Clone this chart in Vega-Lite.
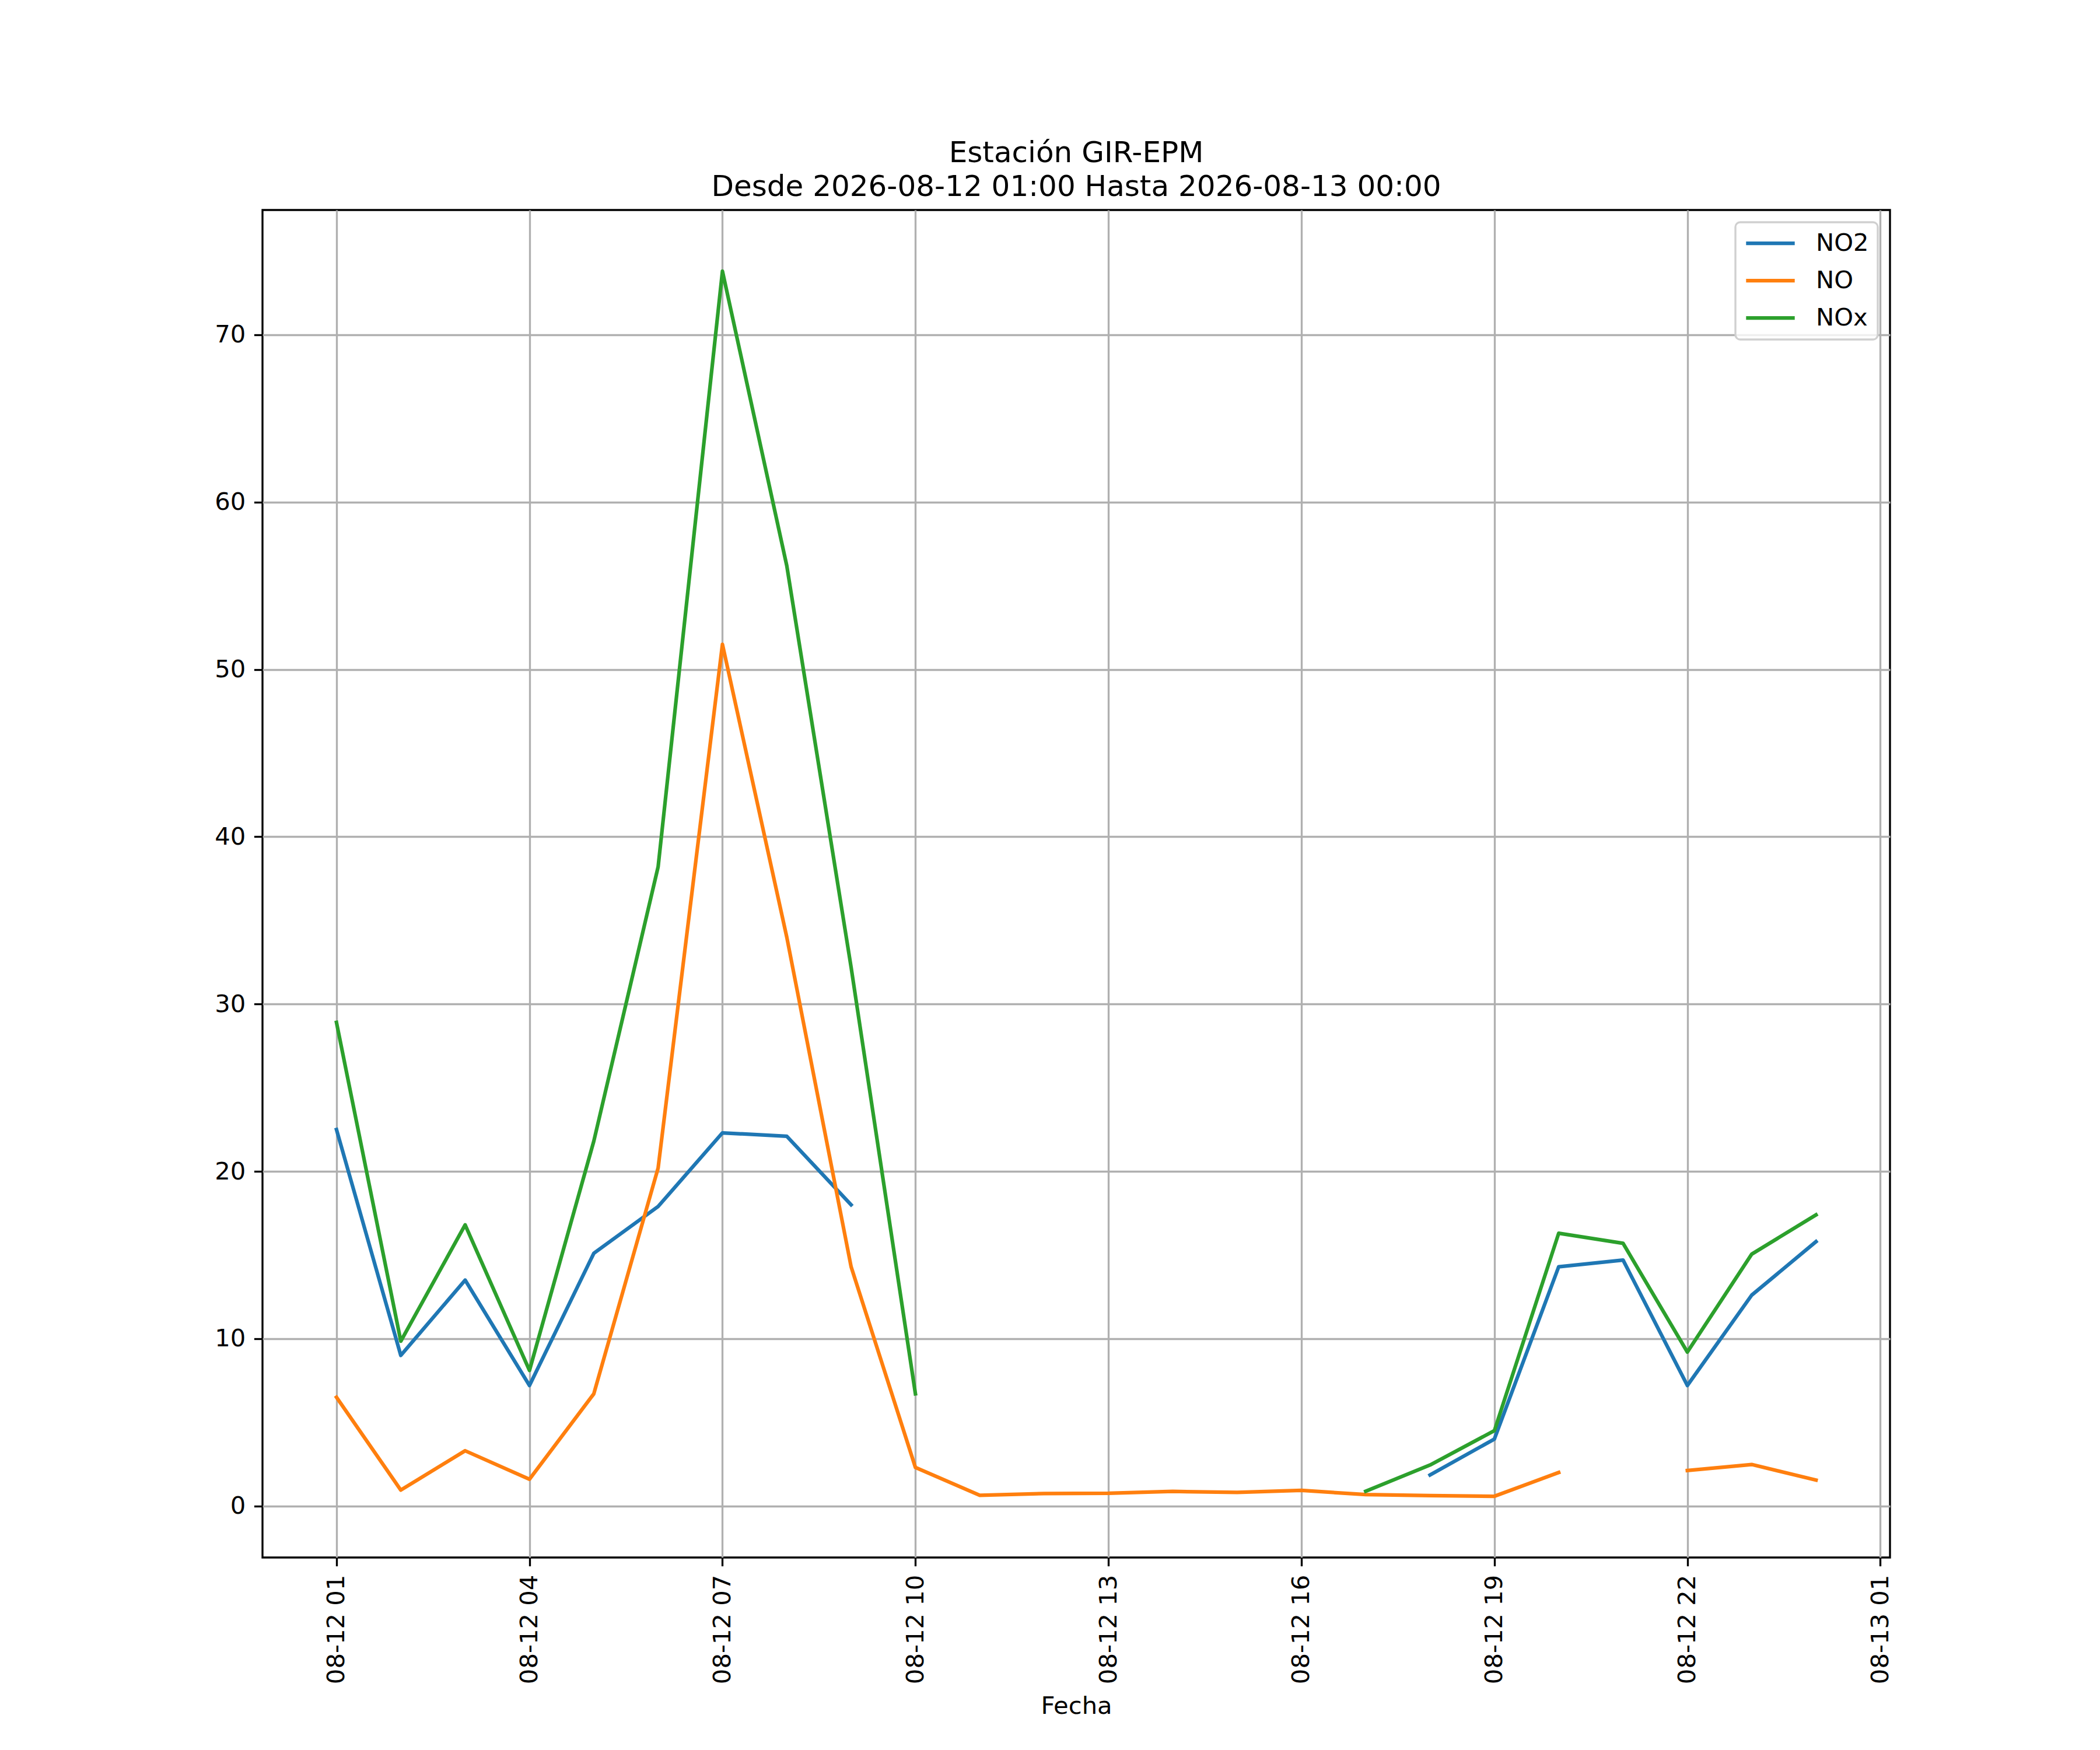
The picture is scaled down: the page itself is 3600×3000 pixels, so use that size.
{
  "$schema": "https://vega.github.io/schema/vega-lite/v6.json",
  "autosize": "none",
  "width": 2790,
  "height": 2310,
  "padding": {"left": 450, "top": 360, "right": 360, "bottom": 330},
  "background": "white",
  "config": {
    "font": "DejaVu Sans",
    "view": {"stroke": "black", "strokeWidth": 3.33},
    "axis": {
      "labelFontSize": 41.7,
      "labelColor": "black",
      "labelPadding": 14.6,
      "labelLimit": 0,
      "tickSize": 14.6,
      "tickWidth": 3.33,
      "tickColor": "black",
      "grid": true,
      "gridColor": "#b0b0b0",
      "gridWidth": 3.33,
      "domain": false,
      "titleFontSize": 41.7,
      "titleFontWeight": "normal",
      "titleColor": "black"
    },
    "legend": {
      "labelFontSize": 41.7,
      "labelColor": "black",
      "symbolType": "stroke",
      "symbolSize": 6956,
      "symbolStrokeWidth": 6.25,
      "clipHeight": 42,
      "labelOffset": 33,
      "rowPadding": 21,
      "padding": 15,
      "fillColor": "rgba(255,255,255,0.8)",
      "strokeColor": "#d0d0d0",
      "strokeWidth": 3.33,
      "cornerRadius": 8
    }
  },
  "title": {
    "text": ["Estación GIR-EPM", "Desde 2026-08-12 01:00 Hasta 2026-08-13 00:00"],
    "fontSize": 50,
    "fontWeight": "normal",
    "color": "black",
    "anchor": "middle",
    "frame": "group",
    "baseline": "bottom",
    "offset": -36,
    "lineHeight": 58
  },
  "data": {
    "values": [
      {"t": "2026-08-12T01:00:00Z", "s": "NO2", "v": 22.5},
      {"t": "2026-08-12T02:00:00Z", "s": "NO2", "v": 9.0},
      {"t": "2026-08-12T03:00:00Z", "s": "NO2", "v": 13.5},
      {"t": "2026-08-12T04:00:00Z", "s": "NO2", "v": 7.2},
      {"t": "2026-08-12T05:00:00Z", "s": "NO2", "v": 15.1},
      {"t": "2026-08-12T06:00:00Z", "s": "NO2", "v": 17.9},
      {"t": "2026-08-12T07:00:00Z", "s": "NO2", "v": 22.3},
      {"t": "2026-08-12T08:00:00Z", "s": "NO2", "v": 22.1},
      {"t": "2026-08-12T09:00:00Z", "s": "NO2", "v": 18.0},
      {"t": "2026-08-12T10:00:00Z", "s": "NO2", "v": null},
      {"t": "2026-08-12T11:00:00Z", "s": "NO2", "v": null},
      {"t": "2026-08-12T12:00:00Z", "s": "NO2", "v": null},
      {"t": "2026-08-12T13:00:00Z", "s": "NO2", "v": null},
      {"t": "2026-08-12T14:00:00Z", "s": "NO2", "v": null},
      {"t": "2026-08-12T15:00:00Z", "s": "NO2", "v": null},
      {"t": "2026-08-12T16:00:00Z", "s": "NO2", "v": null},
      {"t": "2026-08-12T17:00:00Z", "s": "NO2", "v": null},
      {"t": "2026-08-12T18:00:00Z", "s": "NO2", "v": 1.85},
      {"t": "2026-08-12T19:00:00Z", "s": "NO2", "v": 4.0},
      {"t": "2026-08-12T20:00:00Z", "s": "NO2", "v": 14.3},
      {"t": "2026-08-12T21:00:00Z", "s": "NO2", "v": 14.7},
      {"t": "2026-08-12T22:00:00Z", "s": "NO2", "v": 7.2},
      {"t": "2026-08-12T23:00:00Z", "s": "NO2", "v": 12.6},
      {"t": "2026-08-13T00:00:00Z", "s": "NO2", "v": 15.8},
      {"t": "2026-08-12T01:00:00Z", "s": "NO", "v": 6.5},
      {"t": "2026-08-12T02:00:00Z", "s": "NO", "v": 0.95},
      {"t": "2026-08-12T03:00:00Z", "s": "NO", "v": 3.3},
      {"t": "2026-08-12T04:00:00Z", "s": "NO", "v": 1.6},
      {"t": "2026-08-12T05:00:00Z", "s": "NO", "v": 6.7},
      {"t": "2026-08-12T06:00:00Z", "s": "NO", "v": 20.2},
      {"t": "2026-08-12T07:00:00Z", "s": "NO", "v": 51.5},
      {"t": "2026-08-12T08:00:00Z", "s": "NO", "v": 34.0},
      {"t": "2026-08-12T09:00:00Z", "s": "NO", "v": 14.3},
      {"t": "2026-08-12T10:00:00Z", "s": "NO", "v": 2.3},
      {"t": "2026-08-12T11:00:00Z", "s": "NO", "v": 0.64},
      {"t": "2026-08-12T12:00:00Z", "s": "NO", "v": 0.74},
      {"t": "2026-08-12T13:00:00Z", "s": "NO", "v": 0.76},
      {"t": "2026-08-12T14:00:00Z", "s": "NO", "v": 0.87},
      {"t": "2026-08-12T15:00:00Z", "s": "NO", "v": 0.81},
      {"t": "2026-08-12T16:00:00Z", "s": "NO", "v": 0.93},
      {"t": "2026-08-12T17:00:00Z", "s": "NO", "v": 0.68},
      {"t": "2026-08-12T18:00:00Z", "s": "NO", "v": 0.62},
      {"t": "2026-08-12T19:00:00Z", "s": "NO", "v": 0.58},
      {"t": "2026-08-12T20:00:00Z", "s": "NO", "v": 2.0},
      {"t": "2026-08-12T21:00:00Z", "s": "NO", "v": null},
      {"t": "2026-08-12T22:00:00Z", "s": "NO", "v": 2.12},
      {"t": "2026-08-12T23:00:00Z", "s": "NO", "v": 2.48},
      {"t": "2026-08-13T00:00:00Z", "s": "NO", "v": 1.55},
      {"t": "2026-08-12T01:00:00Z", "s": "NOx", "v": 28.9},
      {"t": "2026-08-12T02:00:00Z", "s": "NOx", "v": 9.85},
      {"t": "2026-08-12T03:00:00Z", "s": "NOx", "v": 16.8},
      {"t": "2026-08-12T04:00:00Z", "s": "NOx", "v": 8.1},
      {"t": "2026-08-12T05:00:00Z", "s": "NOx", "v": 21.8},
      {"t": "2026-08-12T06:00:00Z", "s": "NOx", "v": 38.2},
      {"t": "2026-08-12T07:00:00Z", "s": "NOx", "v": 73.8},
      {"t": "2026-08-12T08:00:00Z", "s": "NOx", "v": 56.2},
      {"t": "2026-08-12T09:00:00Z", "s": "NOx", "v": 32.2},
      {"t": "2026-08-12T10:00:00Z", "s": "NOx", "v": 6.7},
      {"t": "2026-08-12T11:00:00Z", "s": "NOx", "v": null},
      {"t": "2026-08-12T12:00:00Z", "s": "NOx", "v": null},
      {"t": "2026-08-12T13:00:00Z", "s": "NOx", "v": null},
      {"t": "2026-08-12T14:00:00Z", "s": "NOx", "v": null},
      {"t": "2026-08-12T15:00:00Z", "s": "NOx", "v": null},
      {"t": "2026-08-12T16:00:00Z", "s": "NOx", "v": null},
      {"t": "2026-08-12T17:00:00Z", "s": "NOx", "v": 0.88},
      {"t": "2026-08-12T18:00:00Z", "s": "NOx", "v": 2.45},
      {"t": "2026-08-12T19:00:00Z", "s": "NOx", "v": 4.5},
      {"t": "2026-08-12T20:00:00Z", "s": "NOx", "v": 16.3},
      {"t": "2026-08-12T21:00:00Z", "s": "NOx", "v": 15.7},
      {"t": "2026-08-12T22:00:00Z", "s": "NOx", "v": 9.2},
      {"t": "2026-08-12T23:00:00Z", "s": "NOx", "v": 15.05},
      {"t": "2026-08-13T00:00:00Z", "s": "NOx", "v": 17.4}
    ]
  },
  "mark": {
    "type": "line",
    "strokeWidth": 6.25,
    "strokeJoin": "round",
    "strokeCap": "square",
    "invalid": "break-paths-show-domains"
  },
  "encoding": {
    "x": {
      "field": "t",
      "type": "temporal",
      "scale": {
        "type": "utc",
        "domain": [
          {"year": 2026, "month": 8, "date": 11, "hours": 23, "minutes": 51, "utc": true},
          {"year": 2026, "month": 8, "date": 13, "hours": 1, "minutes": 9, "utc": true}
        ]
      },
      "axis": {
        "title": "Fecha",
        "values": [
          {"year": 2026, "month": 8, "date": 12, "hours": 1, "utc": true},
          {"year": 2026, "month": 8, "date": 12, "hours": 4, "utc": true},
          {"year": 2026, "month": 8, "date": 12, "hours": 7, "utc": true},
          {"year": 2026, "month": 8, "date": 12, "hours": 10, "utc": true},
          {"year": 2026, "month": 8, "date": 12, "hours": 13, "utc": true},
          {"year": 2026, "month": 8, "date": 12, "hours": 16, "utc": true},
          {"year": 2026, "month": 8, "date": 12, "hours": 19, "utc": true},
          {"year": 2026, "month": 8, "date": 12, "hours": 22, "utc": true},
          {"year": 2026, "month": 8, "date": 13, "hours": 1, "utc": true}
        ],
        "labelExpr": "utcFormat(datum.value, '%m-%d %H')",
        "labelAngle": 270,
        "labelAlign": "right",
        "labelBaseline": "middle",
        "labelFlush": false,
        "labelOverlap": false,
        "titleX": 1395,
        "titleY": 267,
        "titleAlign": "center",
        "titleBaseline": "alphabetic"
      }
    },
    "y": {
      "field": "v",
      "type": "quantitative",
      "scale": {"domain": [-3.08, 77.46], "nice": false, "zero": false},
      "axis": {"title": null, "values": [0, 10, 20, 30, 40, 50, 60, 70]}
    },
    "color": {
      "field": "s",
      "type": "nominal",
      "scale": {
        "domain": ["NO2", "NO", "NOx"],
        "range": ["#1f77b4", "#ff7f0e", "#2ca02c"]
      },
      "legend": {"title": null, "orient": "top-right", "offset": 21}
    }
  }
}
